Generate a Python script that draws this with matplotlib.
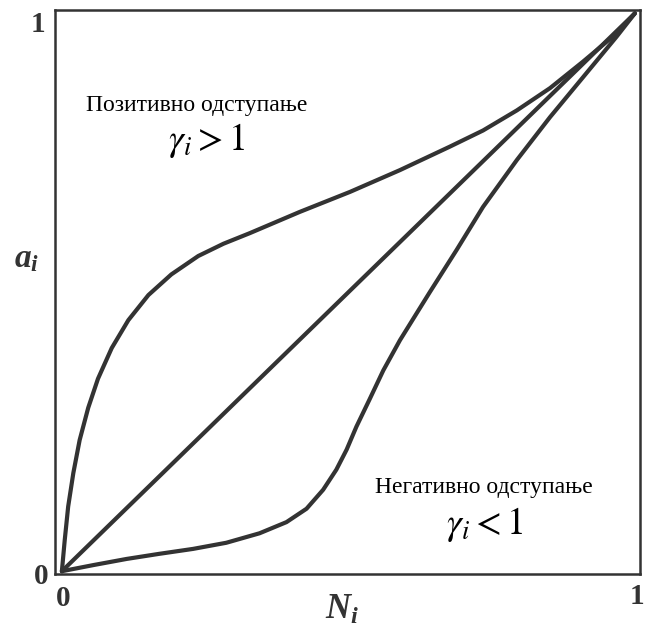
import matplotlib.pyplot as plt

plt.rcParams['mathtext.fontset'] = 'custom'
plt.rcParams['mathtext.rm'] = 'Liberation Serif:bold'
plt.rcParams['mathtext.it'] = 'Liberation Serif:italic:bold'

# молски удео N_i и активност a_i
# позитивно одступање (gamma > 1)
N_poz = [0.0, 0.005, 0.011, 0.020, 0.031, 0.046, 0.063, 0.087, 0.116, 0.151,
         0.191, 0.238, 0.282, 0.328, 0.415, 0.503, 0.590, 0.677, 0.735, 0.794,
         0.852, 0.909, 0.968, 1.0]
a_poz = [0.0, 0.056, 0.116, 0.176, 0.235, 0.293, 0.345, 0.400, 0.450, 0.495,
         0.532, 0.565, 0.587, 0.606, 0.644, 0.680, 0.719, 0.761, 0.790, 0.826,
         0.866, 0.913, 0.964, 1.0]

# идеални раствор (Раулов закон)
N_id = [0.0, 1.0]
a_id = [0.0, 1.0]

# негативно одступање (gamma < 1)
N_neg = [0.0, 0.055, 0.113, 0.169, 0.229, 0.287, 0.345, 0.392, 0.427, 0.456,
         0.479, 0.497, 0.514, 0.537, 0.561, 0.590, 0.619, 0.642, 0.689, 0.735,
         0.794, 0.852, 0.910, 0.968, 1.0]
a_neg = [0.0, 0.011, 0.022, 0.031, 0.040, 0.051, 0.068, 0.088, 0.112, 0.146,
         0.182, 0.218, 0.259, 0.308, 0.360, 0.414, 0.462, 0.500, 0.576, 0.653,
         0.737, 0.814, 0.886, 0.958, 1.0]

boja = '#333333'

fig = plt.figure(figsize=(6.45, 6.30), dpi=100)
ax = fig.add_axes([55/645, (630-574)/630, 585/645, 564/630])

for x, y in [(N_poz, a_poz), (N_id, a_id), (N_neg, a_neg)]:
    ax.plot(x, y, color=boja, lw=3.0, solid_joinstyle='round', solid_capstyle='round')

ax.set_xlim(-0.012, 1.009)
ax.set_ylim(-0.005, 1.006)
ax.set_xticks([])
ax.set_yticks([])
for s in ax.spines.values():
    s.set_linewidth(1.8)
    s.set_color(boja)

serif = 'Liberation Serif'
fig.text(38/645, 1-25/630, '1', ha='center', va='center', fontsize=21,
         family=serif, weight='bold', color=boja)
fig.text(41/645, 1-576/630, '0', ha='center', va='center', fontsize=21,
         family=serif, weight='bold', color=boja)
fig.text(63/645, 1-599/630, '0', ha='center', va='center', fontsize=21,
         family=serif, weight='bold', color=boja)
fig.text(637/645, 1-596/630, '1', ha='center', va='center', fontsize=21,
         family=serif, weight='bold', color=boja)
fig.text(27/645, 1-258/630, r'$a_i$', ha='center', va='center', fontsize=24,
         color=boja)
fig.text(342/645, 1-609/630, r'$N_i$', ha='center', va='center', fontsize=25,
         color=boja)

fig.text(197/645, 1-105/630, 'Позитивно одступање', ha='center', va='center',
         fontsize=17, family=serif)
fig.text(207/645, 1-141/630, r'$\gamma_i > 1$', ha='center', va='center',
         fontsize=27, math_fontfamily='stix')
fig.text(484/645, 1-488/630, 'Негативно одступање', ha='center', va='center',
         fontsize=17, family=serif)
fig.text(485/645, 1-525/630, r'$\gamma_i < 1$', ha='center', va='center',
         fontsize=27, math_fontfamily='stix')

plt.savefig('out.png', dpi=100)
